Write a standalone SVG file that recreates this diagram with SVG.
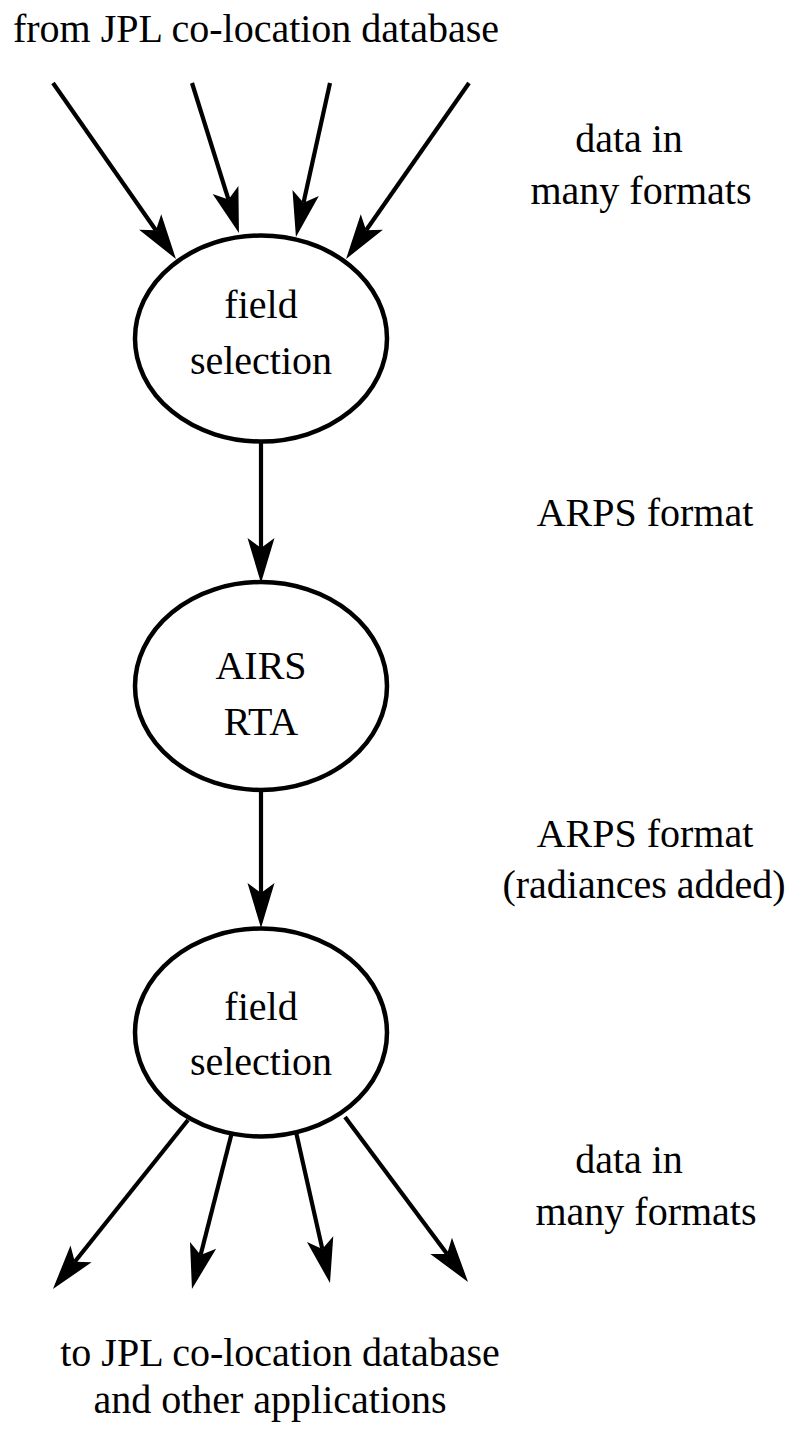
<svg xmlns="http://www.w3.org/2000/svg" width="800" height="1438" viewBox="0 0 800 1438">
<style>
text{font-family:"Liberation Serif","Times New Roman",serif;font-size:40px;fill:#000;text-anchor:middle}
.node ellipse{fill:#fff;stroke:#000;stroke-width:4.5}
.conn line{stroke:#000;stroke-width:4.2;fill:none;marker-end:url(#ah)}
</style>
<defs>
<marker id="ah" markerUnits="userSpaceOnUse" viewBox="-12 -15 52 30" refX="0" refY="0" markerWidth="52" markerHeight="30" orient="auto" overflow="visible">
<path d="M35,0 L-10,-13.5 L0,0 L-10,13.5 Z" fill="#000"/>
</marker>
</defs>
<rect width="800" height="1438" fill="#fff"/>
<g id="connectors" class="conn">
<line x1="53" y1="83" x2="155.9" y2="230.3"/>
<line x1="192" y1="83" x2="228.5" y2="199.6"/>
<line x1="330" y1="83" x2="303.5" y2="202.8"/>
<line x1="469" y1="83" x2="366.1" y2="230.3"/>
<line x1="261" y1="442" x2="261" y2="548"/>
<line x1="261" y1="790" x2="261" y2="893"/>
<line x1="188" y1="1120" x2="74.8" y2="1261.7"/>
<line x1="232" y1="1132" x2="200.6" y2="1255.1"/>
<line x1="296" y1="1132" x2="322.3" y2="1248.9"/>
<line x1="345" y1="1117" x2="447.1" y2="1253.9"/>
</g>
<g id="node-field-selection-1" class="node">
<ellipse cx="261" cy="338.5" rx="126" ry="103"/>
<text x="261" y="318">field</text>
<text x="261" y="374">selection</text>
</g>
<g id="node-airs-rta" class="node">
<ellipse cx="261" cy="686" rx="126" ry="104"/>
<text x="261" y="679">AIRS</text>
<text x="261" y="735">RTA</text>
</g>
<g id="node-field-selection-2" class="node">
<ellipse cx="261" cy="1032.5" rx="126" ry="104"/>
<text x="261" y="1020">field</text>
<text x="261" y="1075">selection</text>
</g>
<g id="labels">
<text x="256" y="42">from JPL co-location database</text>
<text x="629" y="152">data in</text>
<text x="641" y="204">many formats</text>
<text x="645" y="526">ARPS format</text>
<text x="645" y="847">ARPS format</text>
<text x="644" y="898">(radiances added)</text>
<text x="629" y="1173">data in</text>
<text x="646" y="1225">many formats</text>
<text x="280" y="1366">to JPL co-location database</text>
<text x="270" y="1413">and other applications</text>
</g>
</svg>
